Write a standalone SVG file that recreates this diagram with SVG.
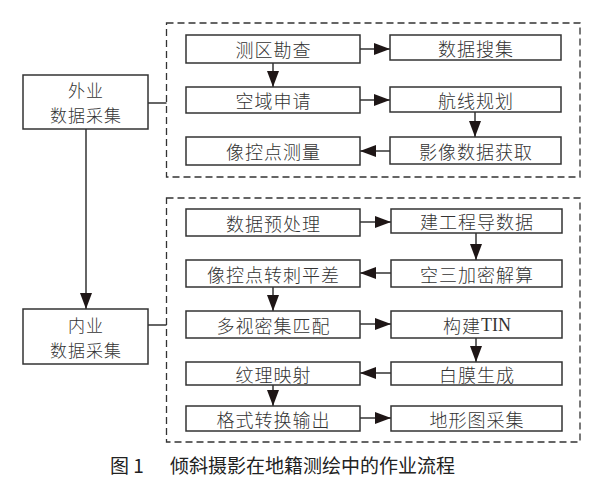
<svg xmlns="http://www.w3.org/2000/svg" width="600" height="490" viewBox="0 0 600 490">
<style>
.box{fill:#fff;stroke:#333;stroke-width:1.5}
.dash{fill:none;stroke:#333;stroke-width:1.3;stroke-dasharray:7 4}
.t{font-family:"Noto Sans CJK SC","Noto Sans",sans-serif;font-size:18px;font-weight:300;letter-spacing:1px;fill:#333;text-anchor:middle;dominant-baseline:central}
.o{font-size:17px}
.ln{fill:none;stroke:#333;stroke-width:1.5}
.ar{marker-end:url(#ah)}
.cap{font-family:"Noto Sans CJK SC","Noto Sans",sans-serif;font-size:19px;fill:#222;dominant-baseline:central}
</style>
<defs>
<marker id="ah" viewBox="0 0 16 12" refX="16" refY="6" markerWidth="16" markerHeight="12" markerUnits="userSpaceOnUse" orient="auto">
<path d="M0,0 L16,6 L0,12 z" fill="#1e1616"/>
</marker>
</defs>
<rect class="dash" x="166.5" y="23" width="413.5" height="154"/>
<rect class="dash" x="166.5" y="198" width="413.5" height="244"/>
<g id="connectors">
<path class="ln ar" d="M360,49 H390"/>
<path class="ln ar" d="M273,63 V87"/>
<path class="ln ar" d="M360,100 H390"/>
<path class="ln ar" d="M475,112 V137"/>
<path class="ln ar" d="M390,151 H360"/>
<path class="ln" d="M148,103 H166.5"/>
<path class="ln ar" d="M86,129 V309"/>
<path class="ln" d="M148,325 H166.5"/>
<path class="ln ar" d="M360,222 H391"/>
<path class="ln ar" d="M476,233 V260"/>
<path class="ln ar" d="M391,273 H360"/>
<path class="ln ar" d="M273,287 V311"/>
<path class="ln ar" d="M360,324 H391"/>
<path class="ln ar" d="M476,338 V362"/>
<path class="ln ar" d="M391,373 H360"/>
<path class="ln ar" d="M273,385 V406"/>
<path class="ln ar" d="M360,418 H391"/>
</g>
<g id="waiye"><rect class="box" x="23" y="75" width="125" height="54"/><text class="t o" x="86" y="89">外业</text><text class="t o" x="86" y="114">数据采集</text></g>
<g id="neiye"><rect class="box" x="23" y="309" width="125" height="55"/><text class="t o" x="86" y="324">内业</text><text class="t o" x="86" y="349">数据采集</text></g>
<g id="n1"><rect class="box" x="186" y="35" width="174" height="28"/><text class="t" x="273.5" y="49">测区勘查</text></g>
<g id="n2"><rect class="box" x="390" y="35" width="171" height="25"/><text class="t" x="476" y="47.5">数据搜集</text></g>
<g id="n3"><rect class="box" x="186" y="87" width="174" height="26"/><text class="t" x="273.5" y="100">空域申请</text></g>
<g id="n4"><rect class="box" x="390" y="87" width="171" height="25"/><text class="t" x="476" y="99.5">航线规划</text></g>
<g id="n5"><rect class="box" x="186" y="137" width="174" height="28"/><text class="t" x="273.5" y="151">像控点测量</text></g>
<g id="n6"><rect class="box" x="390" y="137" width="171" height="27"/><text class="t" x="476" y="150.5">影像数据获取</text></g>
<g id="m1"><rect class="box" x="186" y="209" width="174" height="27"/><text class="t" x="273.5" y="222.5">数据预处理</text></g>
<g id="m2"><rect class="box" x="391" y="209" width="171" height="24"/><text class="t" x="477" y="221">建工程导数据</text></g>
<g id="m3"><rect class="box" x="186" y="260" width="174" height="27"/><text class="t" x="273.5" y="273.5">像控点转刺平差</text></g>
<g id="m4"><rect class="box" x="391" y="260" width="171" height="27"/><text class="t" x="477" y="273.5">空三加密解算</text></g>
<g id="m5"><rect class="box" x="186" y="311" width="174" height="27"/><text class="t" x="273.5" y="324.5">多视密集匹配</text></g>
<g id="m6"><rect class="box" x="391" y="311" width="171" height="27"/><text class="t" x="477" y="324.5">构建<tspan font-family="Liberation Serif, serif" font-weight="400" letter-spacing="0">TIN</tspan></text></g>
<g id="m7"><rect class="box" x="186" y="362" width="174" height="23"/><text class="t" x="273.5" y="373.5">纹理映射</text></g>
<g id="m8"><rect class="box" x="391" y="362" width="171" height="23"/><text class="t" x="477" y="373.5">白膜生成</text></g>
<g id="m9"><rect class="box" x="186" y="406" width="174" height="25"/><text class="t" x="273.5" y="418.5">格式转换输出</text></g>
<g id="m10"><rect class="box" x="391" y="406" width="171" height="25"/><text class="t" x="477" y="418.5">地形图采集</text></g>
<text class="cap" y="464"><tspan x="110">图 1</tspan><tspan x="170">倾斜摄影在地籍测绘中的作业流程</tspan></text>
</svg>
